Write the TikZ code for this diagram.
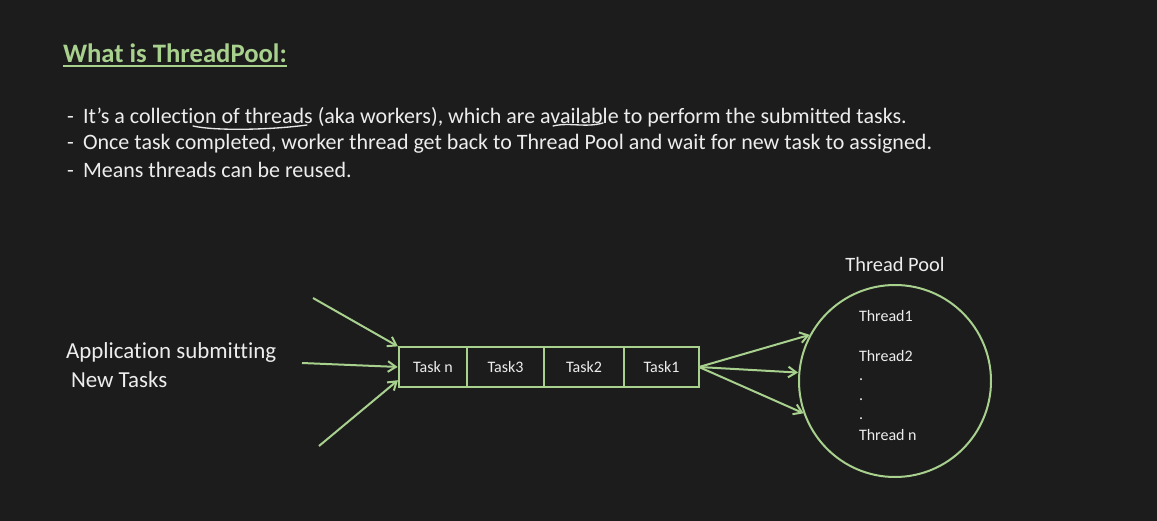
\documentclass[tikz,border=0pt]{standalone}
\usepackage{fontspec}
\setmainfont{Carlito}[Ligatures=NoCommon]
\usetikzlibrary{arrows.meta,positioning}
\definecolor{bg}{HTML}{1C1C1C}
\definecolor{ink}{HTML}{EDEDED}
\definecolor{leaf}{HTML}{A9D18E}
\definecolor{pen}{HTML}{E6E6E6}
\newcommand{\fs}[2]{\fontsize{#1}{#2}\selectfont}
\newcommand{\dash}{-\hspace{7pt}}

\begin{document}
\begin{tikzpicture}[x=0.75pt,y=-0.75pt,
  every node/.style={inner sep=0pt, outer sep=0pt, text=ink},
  cell/.style={draw=leaf, line width=1.5pt, minimum height=30pt, font=\fs{12}{14}},
  flow/.style={-{Straight Barb[length=6pt,width=8pt]}, leaf, line width=1.5pt, shorten >=1pt},
  hand/.style={pen, line width=1pt, line cap=round}]

\fill[bg] (0,0) rectangle (1157,521);

% heading
\node[anchor=base west, font=\fs{20}{24}\bfseries, text=leaf] (title) at (63,62) {What is ThreadPool:};
\draw[leaf, line width=1.5pt] ([yshift=-3pt]title.base west) -- ([yshift=-3pt]title.base east);

\foreach \n/\y/\txt in {1/123/{\dash It’s a collection of threads (aka workers), which are available to perform the submitted tasks.},
                        2/149/{\dash Once task completed, worker thread get back to Thread Pool and wait for new task to assigned.},
                        3/177/{\dash Means threads can be reused.}} {
  \node[anchor=base west, font=\fs{16.5}{20}] (line\n) at (67,\y) {\txt};
}
% pen marks
\draw[hand] (193,126) .. controls (215,131) and (270,130) .. (307,125);
\draw[hand] (553,126) .. controls (570,122) and (585,128) .. (603,123);

% submitters
\node[anchor=base west, font=\fs{17.2}{20}] (app) at (66,358) {Application submitting};
\node[anchor=base west, font=\fs{17.2}{20}] (app2) at (71,387) {New Tasks};

% queue
\node[cell, minimum width=51pt] (tn) at (433,367) {Task n};
\node[cell, minimum width=57.75pt, right=0pt of tn] (t3) {Task3};
\node[cell, minimum width=60pt, right=0pt of t3] (t2) {Task2};
\node[cell, minimum width=56.25pt, right=0pt of t2] (t1) {Task1};

\coordinate (src1) at (313,298);
\coordinate (src2) at (302,363);
\coordinate (src3) at (319,446);
\draw[flow] (src1) -- (tn.north west);
\draw[flow] (src2) -- (tn.west);
\draw[flow] (src3) -- (tn.200);

% pool
\node[draw=leaf, line width=1.5pt, circle, minimum size=144pt] (pool) at (895,381) {};
\node[above=10pt of pool, font=\fs{15.3}{18}] (poolname) {Thread Pool};
\foreach \n/\y/\txt in {th1/321/Thread1, th2/361/Thread2, thn/440/Thread n} {
  \node[anchor=base west, font=\fs{12}{14}] (\n) at (859,\y) {\txt};
}
\foreach \y [count=\k] in {380,400,419} {
  \node[anchor=base west, font=\fs{12}{14}] (dot\k) at (859,\y) {.};
}
\foreach \a in {151,175,200} {
  \draw[flow] (t1.east) -- (pool.\a);
}

\end{tikzpicture}
\end{document}
